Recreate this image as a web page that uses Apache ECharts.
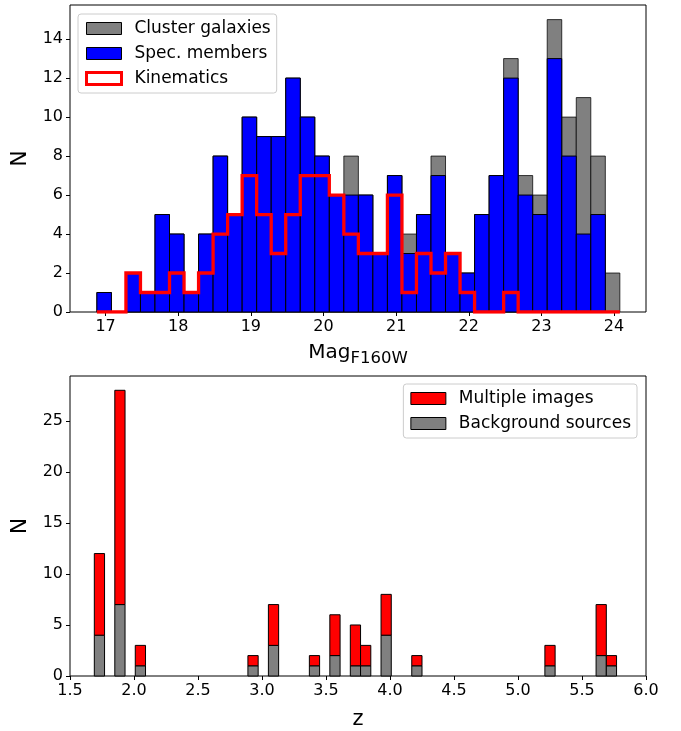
<!DOCTYPE html>
<html><head><meta charset="utf-8">
<script src="https://cdn.jsdelivr.net/npm/echarts@6/dist/echarts.min.js"></script>
<style>html,body{margin:0;padding:0;background:#fff}#c{width:681px;height:731px}</style>
</head><body><div id="c"></div>
<script>
// ---------- Top panel data (Mag F160W histogram) ----------
const magEdges = [16.88,17.08,17.28,17.48,17.68,17.88,18.08,18.28,18.48,18.68,18.88,19.08,19.28,19.48,19.68,19.88,20.08,20.28,20.48,20.68,20.88,21.08,21.28,21.48,21.68,21.88,22.08,22.28,22.48,22.68,22.88,23.08,23.28,23.48,23.68,23.88,24.08];
const clusterCounts = [1,0,2,1,5,4,1,4,8,5,10,9,9,12,10,8,6,8,6,3,7,4,5,8,3,2,5,7,13,7,6,15,10,11,8,2];
const specCounts    = [1,0,2,1,5,4,1,4,8,5,10,9,9,12,10,8,6,6,6,3,7,3,5,7,3,2,5,7,12,6,5,13,8,4,5,0];
const kinCounts     = [0,0,2,1,1,2,1,2,4,5,7,5,3,5,7,7,6,4,3,3,6,1,3,2,3,1,0,0,1,0,0,0,0,0,0,0];
const magTicks = [17,18,19,20,21,22,23,24];
const nTicksTop = [0,2,4,6,8,10,12,14];

// ---------- Bottom panel data (redshift histogram) ----------
const zBinLeft = [1.69,1.85,2.01,2.89,3.05,3.37,3.53,3.69,3.77,3.93,4.17,5.21,5.61,5.69];
const zBinWidth = 0.08;
const backgroundCounts = [4,7,1,1,3,1,2,1,1,4,1,1,2,1];
const multipleCounts   = [8,21,2,1,4,1,4,4,2,4,1,2,5,1];
const nTicksBottom = [0,5,10,15,20,25];

const FONT = 'DejaVu Sans';

function rectRender(fill, stroke) {
  return function (params, api) {
    const x0 = api.value(0), x1 = api.value(1), y0 = api.value(2), y1 = api.value(3);
    if (!(y1 > y0)) return null;
    const p0 = api.coord([x0, y1]);
    const p1 = api.coord([x1, y0]);
    return {
      type: 'rect',
      shape: { x: p0[0], y: p0[1], width: p1[0] - p0[0], height: p1[1] - p0[1] },
      style: { fill: fill, stroke: stroke, lineWidth: 1 }
    };
  };
}

const clusterData = clusterCounts.map((v, i) => [magEdges[i], magEdges[i + 1], 0, v]);
const specData = specCounts.map((v, i) => [magEdges[i], magEdges[i + 1], 0, v]);
const kinLine = [[magEdges[0], 0]];
kinCounts.forEach((v, i) => { kinLine.push([magEdges[i], v]); kinLine.push([magEdges[i + 1], v]); });
kinLine.push([magEdges[magEdges.length - 1], 0]);

const bgData = backgroundCounts.map((v, i) => [zBinLeft[i], zBinLeft[i] + zBinWidth, 0, v]);
const miData = multipleCounts.map((v, i) => [zBinLeft[i], zBinLeft[i] + zBinWidth, backgroundCounts[i], backgroundCounts[i] + v]);

const tickLabel = { color: '#000', fontSize: 16, fontFamily: FONT };
const axisTick = { show: true, inside: false, length: 4, lineStyle: { color: '#000', width: 1 } };

const chart = echarts.init(document.getElementById('c'), null, { renderer: 'canvas' });
chart.setOption({
  animation: false,
  backgroundColor: '#fff',
  grid: [
    { left: 70, right: 35, top: 5, height: 307, show: true, borderColor: '#000', borderWidth: 1, backgroundColor: 'transparent' },
    { left: 70, right: 35, top: 376, height: 307, show: true, borderColor: '#000', borderWidth: 1, backgroundColor: 'transparent' }
  ],
  xAxis: [
    {
      type: 'value', gridIndex: 0, min: 16.51, max: 24.44,
      axisLine: { show: false }, splitLine: { show: false },
      axisTick: Object.assign({ customValues: magTicks }, axisTick),
      axisLabel: Object.assign({ customValues: magTicks, margin: 7 }, tickLabel),
      name: '{a|Mag}{b|F160W}', nameLocation: 'middle', nameGap: 31,
      nameTextStyle: {
        rich: {
          a: { fontSize: 20, fontFamily: FONT, color: '#000', verticalAlign: 'bottom', padding: [0, 0, 4, 0] },
          b: { fontSize: 16.5, fontFamily: FONT, color: '#000', verticalAlign: 'bottom' }
        }
      }
    },
    {
      type: 'value', gridIndex: 1, min: 1.5, max: 6.0, interval: 0.5,
      axisLine: { show: false }, splitLine: { show: false },
      axisTick: axisTick,
      axisLabel: Object.assign({ margin: 7, formatter: v => v.toFixed(1) }, tickLabel),
      name: 'z', nameLocation: 'middle', nameGap: 33,
      nameTextStyle: { fontSize: 21, fontFamily: FONT, color: '#000' }
    }
  ],
  yAxis: [
    {
      type: 'value', gridIndex: 0, min: 0, max: 15.75,
      axisLine: { show: false }, splitLine: { show: false },
      axisTick: Object.assign({ customValues: nTicksTop }, axisTick),
      axisLabel: Object.assign({ customValues: nTicksTop, margin: 7 }, tickLabel),
      name: 'N', nameLocation: 'middle', nameGap: 31,
      nameTextStyle: { fontSize: 22, fontFamily: FONT, color: '#000' }
    },
    {
      type: 'value', gridIndex: 1, min: 0, max: 29.4,
      axisLine: { show: false }, splitLine: { show: false },
      axisTick: Object.assign({ customValues: nTicksBottom }, axisTick),
      axisLabel: Object.assign({ customValues: nTicksBottom, margin: 7 }, tickLabel),
      name: 'N', nameLocation: 'middle', nameGap: 31,
      nameTextStyle: { fontSize: 22, fontFamily: FONT, color: '#000' }
    }
  ],
  legend: [
    {
      left: 78, top: 14, orient: 'vertical', itemWidth: 35, itemHeight: 12, itemGap: 8,
      padding: [6, 6, 6, 7], borderColor: '#ccc', borderWidth: 1, borderRadius: 3,
      backgroundColor: 'rgba(255,255,255,0.85)', selectedMode: false,
      textStyle: { fontSize: 17, fontFamily: FONT, color: '#000', padding: [0, 0, 0, 8], lineHeight: 17 },
      data: [
        { name: 'Cluster galaxies', icon: 'rect', itemStyle: { color: '#808080', borderColor: '#000', borderWidth: 1 } },
        { name: 'Spec. members', icon: 'rect', itemStyle: { color: '#0000ff', borderColor: '#000', borderWidth: 1 } },
        { name: 'Kinematics', icon: 'rect', itemStyle: { color: '#fff', borderColor: '#ff0000', borderWidth: 3 } }
      ]
    },
    {
      right: 44, top: 384, orient: 'vertical', itemWidth: 35, itemHeight: 12, itemGap: 8,
      padding: [6, 6, 6, 7], borderColor: '#ccc', borderWidth: 1, borderRadius: 3,
      backgroundColor: 'rgba(255,255,255,0.85)', selectedMode: false,
      textStyle: { fontSize: 17, fontFamily: FONT, color: '#000', padding: [0, 0, 0, 8], lineHeight: 17 },
      data: [
        { name: 'Multiple images', icon: 'rect', itemStyle: { color: '#ff0000', borderColor: '#000', borderWidth: 1 } },
        { name: 'Background sources', icon: 'rect', itemStyle: { color: '#808080', borderColor: '#000', borderWidth: 1 } }
      ]
    }
  ],
  series: [
    {
      name: 'Cluster galaxies', type: 'custom', xAxisIndex: 0, yAxisIndex: 0,
      renderItem: rectRender('#808080', 'rgba(0,0,0,0.75)'),
      encode: { x: [0, 1], y: [2, 3] }, data: clusterData, z: 2
    },
    {
      name: 'Spec. members', type: 'custom', xAxisIndex: 0, yAxisIndex: 0,
      renderItem: rectRender('#0000ff', '#000'),
      encode: { x: [0, 1], y: [2, 3] }, data: specData, z: 3
    },
    {
      name: 'Kinematics', type: 'line', xAxisIndex: 0, yAxisIndex: 0,
      data: kinLine, symbol: 'none', showSymbol: false,
      lineStyle: { color: '#ff0000', width: 3.3, join: 'miter' }, itemStyle: { color: '#ff0000' }, z: 4
    },
    {
      name: 'Background sources', type: 'custom', xAxisIndex: 1, yAxisIndex: 1,
      renderItem: rectRender('#808080', '#000'),
      encode: { x: [0, 1], y: [2, 3] }, data: bgData, z: 2
    },
    {
      name: 'Multiple images', type: 'custom', xAxisIndex: 1, yAxisIndex: 1,
      renderItem: rectRender('#ff0000', '#000'),
      encode: { x: [0, 1], y: [2, 3] }, data: miData, z: 2
    }
  ]
});
</script>
</body></html>
